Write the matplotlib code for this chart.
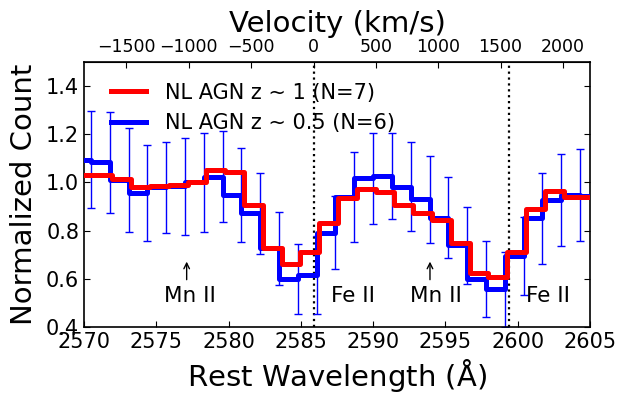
import matplotlib
matplotlib.use("Agg")
import matplotlib.pyplot as plt
import numpy as np

# Wavelength grids (Angstrom)
wl_blue = [2569.18, 2570.48, 2571.79, 2573.09, 2574.39, 2575.69, 2576.99, 2578.29,
           2579.59, 2580.89, 2582.19, 2583.49, 2584.79, 2586.09, 2587.39, 2588.70,
           2590.00, 2591.30, 2592.60, 2593.90, 2595.20, 2596.50, 2597.80, 2599.10,
           2600.40, 2601.70, 2603.00, 2604.30, 2605.60]
wl_red = [2569.35, 2570.65, 2571.96, 2573.26, 2574.56, 2575.86, 2577.16, 2578.46,
          2579.76, 2581.06, 2582.36, 2583.66, 2584.96, 2586.26, 2587.56, 2588.87,
          2590.17, 2591.47, 2592.77, 2594.07, 2595.37, 2596.67, 2597.97, 2599.27,
          2600.57, 2601.87, 2603.17, 2604.47, 2605.77]

# Normalized counts
blue_vals = [1.10, 1.095, 1.083, 1.01, 0.955, 0.98, 0.984, 1.00, 1.024, 0.948, 0.872,
             0.727, 0.599, 0.616, 0.791, 0.94, 1.017, 1.027, 0.982, 0.93, 0.854,
             0.74, 0.598, 0.556, 0.695, 0.851, 0.927, 0.948, 0.945]
red_vals = [1.03, 1.03, 1.03, 1.015, 0.982, 0.985, 0.99, 1.00, 1.05, 1.042, 0.906,
            0.727, 0.66, 0.712, 0.83, 0.934, 0.973, 0.959, 0.906, 0.872, 0.844,
            0.747, 0.625, 0.609, 0.71, 0.89, 0.966, 0.94, 0.94]
# error bars for the visible blue points (index 1..27)
blue_err = [0.20, 0.21, 0.215, 0.20, 0.19, 0.20, 0.205, 0.19, 0.194, 0.168, 0.152,
            0.145, 0.16, 0.152, 0.186, 0.19, 0.18, 0.184, 0.18, 0.168, 0.16, 0.157,
            0.156, 0.162, 0.19, 0.19, 0.189]

labels = ["NL AGN z ~ 1 (N=7)", "NL AGN z ~ 0.5 (N=6)"]
feii_lines = [2585.876, 2599.395]
mn_arrows = [2577.10, 2593.93]
mn_text = [2577.33, 2594.33]
fe_text = [2588.64, 2602.11]
lam0 = 2585.876
c_kms = 299792.458

fig = plt.figure(figsize=(6.21, 3.93), dpi=100)
ax = fig.add_axes([0.1353, 0.1679, 0.8148, 0.6743])

lb, = ax.step(wl_blue, blue_vals, where='pre', color='#0000ff', lw=3.6, zorder=3)
ax.errorbar(wl_blue[1:28], blue_vals[1:28], yerr=blue_err, fmt='none',
            ecolor='#0000ff', elinewidth=1.0, capsize=3, capthick=1.0, zorder=2)
lr, = ax.step(wl_red, red_vals, where='pre', color='#ff0000', lw=3.6, zorder=4)

for xl in feii_lines:
    ax.axvline(xl, color='k', ls=':', lw=1.6, zorder=1)

for xa, xt in zip(mn_arrows, mn_text):
    ax.annotate('', xy=(xa, 0.683), xytext=(xa, 0.585),
                arrowprops=dict(arrowstyle='->', color='k', lw=1.0))
    ax.text(xt, 0.528, 'Mn II', ha='center', va='center', fontsize=15.5)
for xt in fe_text:
    ax.text(xt, 0.528, 'Fe II', ha='center', va='center', fontsize=15.5)

ax.set_xlim(2570, 2605)
ax.set_ylim(0.4, 1.5)
ax.set_xticks([2570, 2575, 2580, 2585, 2590, 2595, 2600, 2605])
ax.set_yticks([0.4, 0.6, 0.8, 1.0, 1.2, 1.4])
ax.tick_params(direction='in', labelsize=15, length=4, top=False, right=True)
for s in ax.spines.values():
    s.set_linewidth(1.2)
ax.set_xlabel(r'Rest Wavelength $(\mathrm{\AA})$', fontsize=21, labelpad=4)
ax.set_ylabel('Normalized Count', fontsize=21, labelpad=6)

sec = ax.secondary_xaxis('top', functions=(lambda l: (l - lam0) / lam0 * c_kms,
                                            lambda v: lam0 + v * lam0 / c_kms))
sec.set_xticks([-1500, -1000, -500, 0, 500, 1000, 1500, 2000])
sec.tick_params(direction='in', labelsize=12.5, length=4, pad=4)
sec.set_xlabel('Velocity (km/s)', fontsize=21, labelpad=5)

ax.legend([lr, lb], labels, loc='upper left', frameon=False, fontsize=15,
          handlelength=1.7, handletextpad=0.9, labelspacing=0.5,
          borderaxespad=0.4, bbox_to_anchor=(0.02, 0.985))

fig.savefig('out.png', dpi=100)
